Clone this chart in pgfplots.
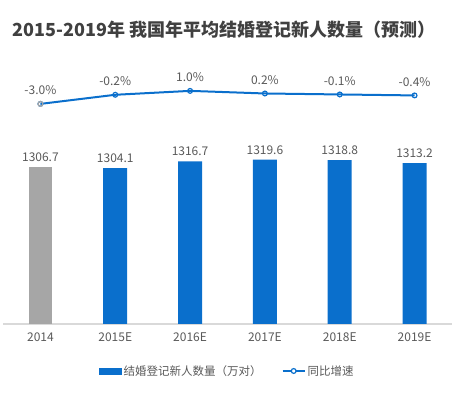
\documentclass[border=0pt]{standalone}
\usepackage{pgfplots}
\pgfplotsset{compat=1.18}
\usepackage{fontspec}
\setmainfont{Noto Sans CJK SC}
\definecolor{barblue}{HTML}{0A6FCC}
\definecolor{bargray}{HTML}{A6A6A6}
\definecolor{txtgray}{HTML}{595959}
\definecolor{ttlgray}{HTML}{404040}
\definecolor{axgray}{HTML}{D9D9D9}
\begin{document}
\begin{tikzpicture}[x=1pt,y=1pt]
\path[use as bounding box] (0,0) rectangle (458,395);
\node[font=\fontsize{18}{20}\selectfont\bfseries, text=ttlgray] at (224,365) {2015-2019年 我国年平均结婚登记新人数量（预测）};
\begin{axis}[
  at={(3pt,71pt)}, anchor=south west,
  width=449pt, height=264pt, scale only axis,
  xmin=-0.5, xmax=5.5, ymin=1019, ymax=1502,
  axis x line=bottom, axis y line=none,
  x axis line style={draw=axgray, line width=1.5pt, -},
  xtick={0,1,2,3,4,5},
  xticklabels={2014,2015E,2016E,2017E,2018E,2019E},
  major tick length=0pt,
  xticklabel style={font=\fontsize{12}{14}\selectfont, text=txtgray, yshift=-5pt},
  ytick=\empty,
  /pgf/number format/assume math mode=true,
  /pgf/number format/1000 sep={},
  nodes near coords style={font=\fontsize{12}{14}\selectfont, text=txtgray, yshift=2pt},
  clip=false,
]
\addplot[ybar, bar width=23pt, bar shift=0pt, fill=bargray, draw=none,
  nodes near coords={\pgfmathprintnumber[fixed,fixed zerofill,precision=1,1000 sep={}]{\pgfplotspointmeta}}]
  coordinates {(0,1306.7)};
\addplot[ybar, bar width=24pt, bar shift=0pt, fill=barblue, draw=none,
  nodes near coords={\pgfmathprintnumber[fixed,fixed zerofill,precision=1,1000 sep={}]{\pgfplotspointmeta}}]
  coordinates {(1,1304.1) (2,1316.7) (3,1319.6) (4,1318.8) (5,1313.2)};
\end{axis}
\begin{axis}[
  at={(3pt,71pt)}, anchor=south west,
  width=449pt, height=264pt, scale only axis,
  xmin=-0.5, xmax=5.5, ymin=-70.7, ymax=10.5,
  hide axis, clip=false,
  /pgf/number format/assume math mode=true,
  legend style={at={(0.5,-0.178)}, anchor=center, draw=none, fill=none,
    font=\fontsize{11.5}{13}\selectfont, text=txtgray, legend columns=2,
    /tikz/every even column/.append style={column sep=18pt}},
]
\addlegendimage{legend image code/.code={\fill[barblue] (0pt,-3pt) rectangle (22pt,3pt);}}
\addlegendentry{结婚登记新人数量（万对）}
\addplot[barblue, line width=2pt, mark=o, mark size=2.4pt,
  mark options={fill=white, line width=1.2pt},
  nodes near coords={\pgfmathprintnumber[fixed,fixed zerofill,precision=1]{\pgfplotspointmeta}\%},
  every node near coord/.append style={anchor=south, font=\fontsize{12}{14}\selectfont, text=txtgray, yshift=5pt},
  legend image code/.code={\draw[barblue,line width=2pt] (0pt,0pt)--(22pt,0pt);
    \draw[barblue,line width=1.2pt,fill=white] (11pt,0pt) circle (2.4pt);}]
  coordinates {(0,-3.0) (1,-0.2) (2,1.0) (3,0.2) (4,-0.1) (5,-0.4)};
\addlegendentry{同比增速}
\addplot[bargray, only marks, mark=o, mark size=2.4pt, mark options={fill=white, line width=1.2pt}, forget plot]
  coordinates {(0,-3.0)};
\end{axis}
\end{tikzpicture}
\end{document}
